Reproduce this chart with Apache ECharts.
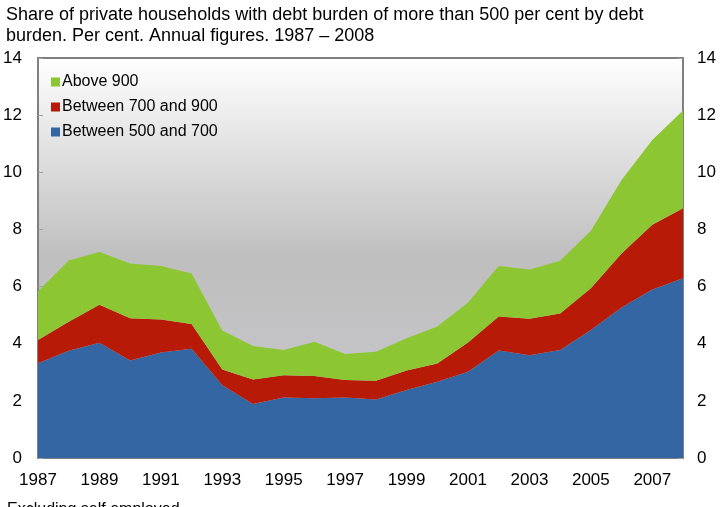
<!DOCTYPE html>
<html>
<head>
<meta charset="utf-8">
<script src="https://cdn.jsdelivr.net/npm/echarts@6/dist/echarts.min.js"></script>
<style>
  html, body { margin: 0; padding: 0; background: #fff; }
  #main { width: 723px; height: 507px; }
</style>
</head>
<body>
<div id="main"></div>
<script>
// years on the x axis
var years = ["1987", "1988", "1989", "1990", "1991", "1992", "1993", "1994", "1995", "1996", "1997",
  "1998", "1999", "2000", "2001", "2002", "2003", "2004", "2005", "2006", "2007", "2008"];
// debt burden 500-700 per cent
var between500and700 = [3.32, 3.75, 4.03, 3.41, 3.69, 3.82, 2.55, 1.89, 2.12, 2.09, 2.12,
  2.05, 2.38, 2.67, 3.02, 3.76, 3.60, 3.78, 4.48, 5.27, 5.90, 6.29];
// debt burden 700-900 per cent
var between700and900 = [0.81, 1.02, 1.33, 1.48, 1.16, 0.87, 0.55, 0.86, 0.78, 0.78, 0.61,
  0.65, 0.68, 0.64, 1.02, 1.19, 1.27, 1.28, 1.46, 1.89, 2.26, 2.45];
// debt burden above 900 per cent
var above900 = [1.71, 2.14, 1.85, 1.92, 1.87, 1.77, 1.36, 1.17, 0.88, 1.20, 0.91,
  1.02, 1.13, 1.29, 1.40, 1.77, 1.73, 1.84, 2.01, 2.57, 2.97, 3.42];
var yTicks = [0, 2, 4, 6, 8, 10, 12, 14];

var fontName = "Liberation Sans";

var myChart = echarts.init(document.getElementById("main"));

// y axis shared settings (left and right)
function yAxisOpt(pos) {
  return {
    type: "value",
    position: pos,
    min: yTicks[0],
    max: yTicks[yTicks.length - 1],
    interval: 2,
    axisLine: { show: true, lineStyle: { color: "#808080", width: 2 } },
    axisTick: { show: true, inside: true, length: 5, lineStyle: { color: "#a0a0a0", width: 1 } },
    splitLine: { show: false },
    axisLabel: { color: "#000", fontSize: 17, fontFamily: fontName, margin: pos == "left" ? 16 : 14 }
  };
}

function areaSeries(name, data, color) {
  return {
    name: name,
    type: "line",
    stack: "total",
    data: data,
    symbol: "none",
    lineStyle: { width: 0 },
    areaStyle: { color: color, opacity: 1 },
    itemStyle: { color: color }
  };
}

var option = {
  animation: false,
  title: [
    {
      text: "Share of private households with debt burden of more than 500 per cent by debt\nburden. Per cent. Annual figures. 1987 – 2008",
      left: 1,
      top: 0,
      textStyle: { fontSize: 18, fontWeight: "normal", color: "#000", fontFamily: fontName, lineHeight: 21 }
    },
    {
      text: "Excluding self employed",
      left: 2,
      top: 497,
      textStyle: { fontSize: 16, fontWeight: "normal", color: "#000", fontFamily: fontName }
    }
  ],
  legend: {
    orient: "vertical",
    left: 46,
    top: 69,
    itemWidth: 9,
    itemHeight: 9,
    itemGap: 9,
    icon: "rect",
    data: ["Above 900", "Between 700 and 900", "Between 500 and 700"],
    textStyle: { fontSize: 16, color: "#000", fontFamily: fontName, padding: [0, 0, 0, -3] }
  },
  grid: {
    left: 38,
    right: 40,
    top: 58,
    bottom: 49,
    show: true,
    borderColor: "#808080",
    borderWidth: 2,
    backgroundColor: {
      type: "linear", x: 0, y: 0, x2: 0, y2: 1,
      colorStops: [
        { offset: 0, color: "#ffffff" },
        { offset: 0.5, color: "#bebebe" },
        { offset: 1, color: "#cbcbd0" }
      ]
    }
  },
  xAxis: {
    type: "category",
    data: years,
    boundaryGap: false,
    axisLine: { show: true, lineStyle: { color: "#808080", width: 2 } },
    axisTick: { show: true, inside: true, length: 5, interval: 1, lineStyle: { color: "#a0a0a0" } },
    axisLabel: { interval: 1, color: "#000", fontSize: 17, fontFamily: fontName, margin: 14 },
    splitLine: { show: false }
  },
  yAxis: [yAxisOpt("left"), yAxisOpt("right")],
  series: [
    areaSeries("Between 500 and 700", between500and700, "#3566a4"),
    areaSeries("Between 700 and 900", between700and900, "#b71b07"),
    areaSeries("Above 900", above900, "#8dc633")
  ]
};

myChart.setOption(option);
</script>
</body>
</html>
